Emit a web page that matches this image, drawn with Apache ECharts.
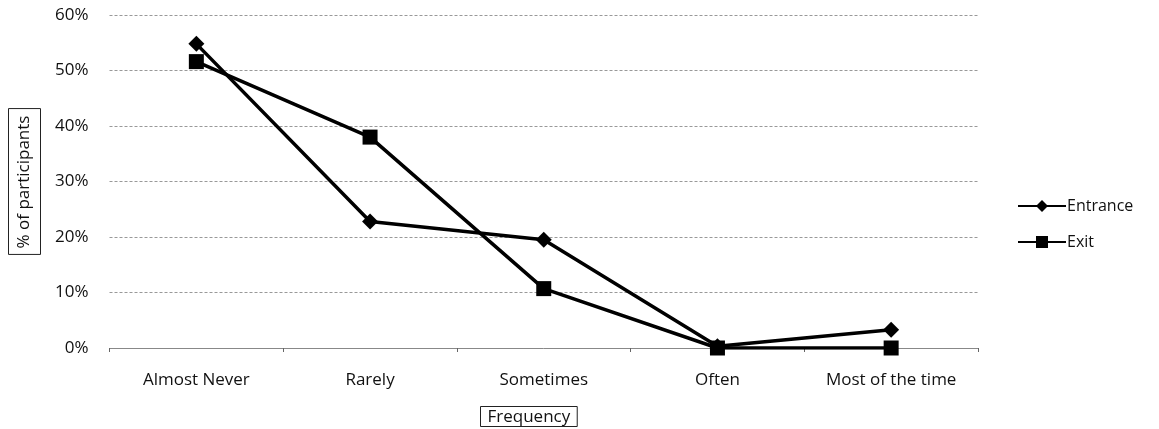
<!DOCTYPE html>
<html><head><meta charset="utf-8">
<script src="https://cdn.jsdelivr.net/npm/echarts@6/dist/echarts.min.js"></script>
<style>html,body{margin:0;padding:0;background:#fff}#c{width:1159px;height:429px}</style>
</head><body><div id="c"></div>
<script>
const categories = ['Almost Never', 'Rarely', 'Sometimes', 'Often', 'Most of the time'];
const entrance = [54.8, 22.8, 19.5, 0.3, 3.3];
const exitVals = [51.6, 38.0, 10.7, 0.0, 0.0];
const yTicks = [0, 10, 20, 30, 40, 50, 60];

const chart = echarts.init(document.getElementById('c'));
const font = 'Open Sans';
chart.setOption({
  animation: false,
  backgroundColor: '#fff',
  grid: { left: 104, right: 181, top: 15, bottom: 81 },
  legend: {
    orient: 'vertical', left: 1012, top: 193, itemGap: 20,
    itemWidth: 48, itemHeight: 15,
    textStyle: { fontFamily: font, fontSize: 16, color: '#111', padding: [0,0,0,-4] },
    data: ['Entrance', 'Exit']
  },
  graphic: [{
    type: 'text', left: 480, top: 406,
    style: { text: 'Frequency', font: '17px "Open Sans"', fill: '#111',
      borderColor: '#222', borderWidth: 1, padding: [2, 7, 1, 7] }
  }],
  xAxis: {
    type: 'category', data: categories, boundaryGap: true,
    axisLine: { lineStyle: { color: '#888', width: 1 } },
    axisTick: { show: true, length: 4, lineStyle: { color: '#666' } },
    axisLabel: { fontFamily: font, fontSize: 17, color: '#111', margin: 24 }
  },
  yAxis: {
    type: 'value', min: yTicks[0], max: yTicks[yTicks.length - 1], interval: 10,
    name: '% of participants', nameLocation: 'middle', nameGap: 69, nameRotate: 90,
    nameTextStyle: { fontFamily: font, fontSize: 17, lineHeight: 20, color: '#111', borderColor: '#222', borderWidth: 1, padding: [6, 7, 6, 6] },
    axisLine: { show: false }, axisTick: { show: false },
    axisLabel: { fontFamily: font, fontSize: 17, color: '#111', margin: 21, formatter: '{value}%' },
    splitLine: { lineStyle: { color: '#999', type: [3, 2], width: 1 } }
  },
  series: [
    { name: 'Entrance', type: 'line', data: entrance, symbol: 'diamond', symbolSize: 16,
      lineStyle: { color: '#000', width: 3.5 }, itemStyle: { color: '#000' }, z: 3 },
    { name: 'Exit', type: 'line', data: exitVals, symbol: 'rect', symbolSize: 15,
      lineStyle: { color: '#000', width: 3.5 }, itemStyle: { color: '#000' }, z: 2 }
  ]
});
</script></body></html>
